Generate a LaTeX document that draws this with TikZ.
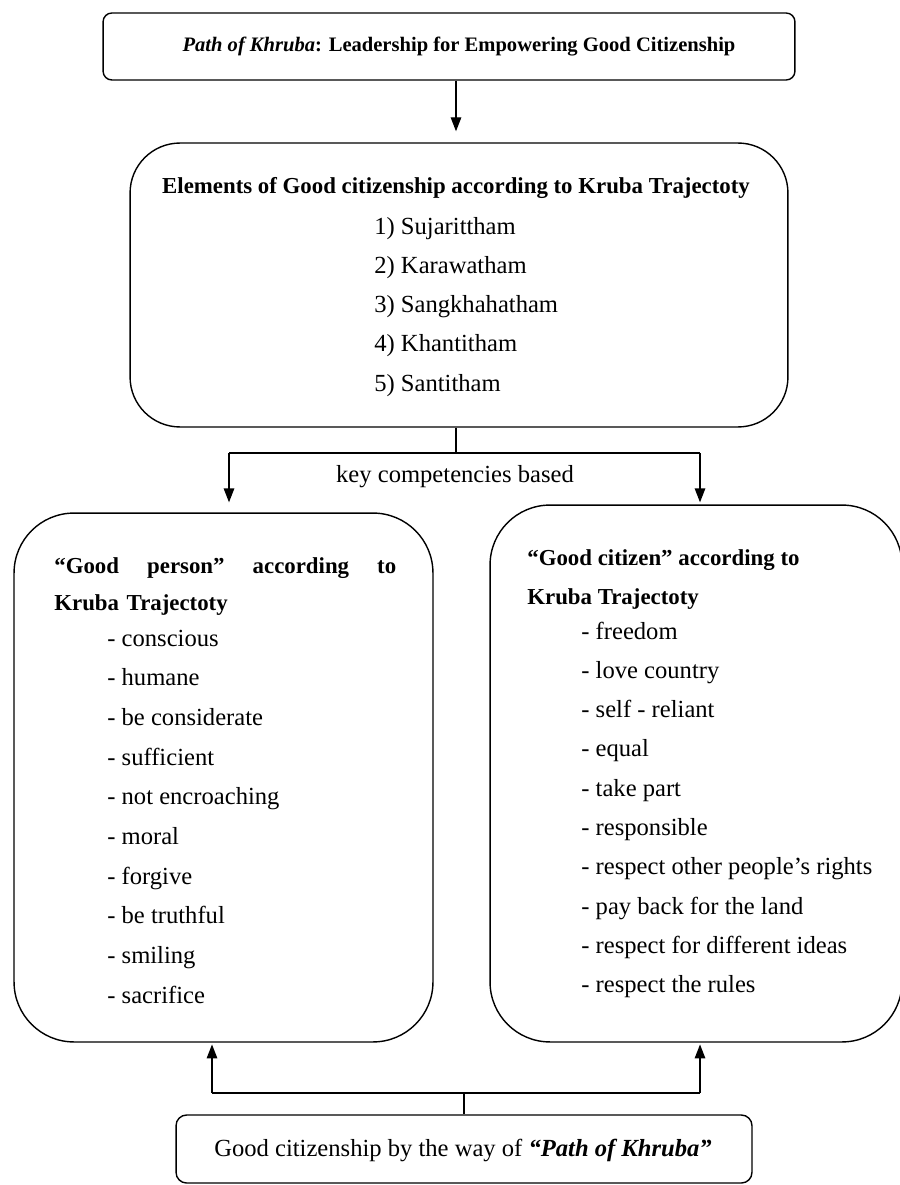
\documentclass[tikz,border=0pt]{standalone}
\usepackage{fontspec}
\setmainfont{Liberation Serif}
\usepackage{tikz}
\usetikzlibrary{arrows.meta}
\tikzset{
  box/.style={draw=black, line width=0.8pt, fill=white},
  headtxt/.style={font=\bfseries\fontsize{13}{15}\selectfont, inner sep=0pt},
  plaintxt/.style={font=\fontsize{14}{16}\selectfont, inner sep=0pt},
  item/.style={plaintxt, anchor=base west},
  link/.style={draw=black, line width=0.8pt},
  arr/.style={link, -{Triangle[length=8pt,width=6pt]}}
}

\begin{document}
\begin{tikzpicture}[x=0.02cm,y=-0.02cm]
  \useasboundingbox (0,0) rectangle (899,1185);

  % boxes
  \node[box, rounded corners=5pt, minimum width=13.84cm, minimum height=1.34cm] (top) at (449,46.5) {};
  \node[box, rounded corners=1cm, minimum width=13.16cm, minimum height=5.68cm] (elem) at (459,285) {};
  \node[box, rounded corners=1.2cm, minimum width=8.38cm, minimum height=10.58cm] (person) at (223.5,777.5) {};
  \node[box, rounded corners=1.2cm, minimum width=8.24cm, minimum height=10.74cm] (citizen) at (696,773.5) {};
  \node[box, rounded corners=6pt, minimum width=11.52cm, minimum height=1.36cm] (path) at (464,1149) {};

  % texts
  \node[headtxt, font=\bfseries\fontsize{11.7}{14}\selectfont] (toptxt) at (459,47)
    {\textit{Path of Khruba}: Leadership for Empowering Good Citizenship};
  \node[headtxt] (elemtitle) at (456,188) {Elements of Good citizenship according to Kruba Trajectoty};
  \foreach \t [count=\i] in {Sujarittham, Karawatham, Sangkhahatham, Khantitham, Santitham}
    \node[item] (e\i) at (374,{235+39*(\i-1)}) {\i) \t};

  \node[headtxt, anchor=north west, text width=6.84cm, align=left,
        font=\bfseries\fontsize{13}{21}\selectfont] (persontitle) at (54,557)
    {``Good\hfill person''\hfill according\hfill to\\Kruba Trajectoty};
  \foreach \t [count=\i] in {conscious, humane, be considerate, sufficient, not encroaching,
                             moral, forgive, be truthful, smiling, sacrifice}
    \node[item] (p\i) at (107,{646+39.7*(\i-1)}) {- \t};

  \node[headtxt, anchor=north west, align=left,
        font=\bfseries\fontsize{13}{22.5}\selectfont] (citizentitle) at (527,549)
    {``Good citizen'' according to\\Kruba Trajectoty};
  \foreach \t [count=\i] in {freedom, love country, self - reliant, equal, take part, responsible,
                             respect other people's rights, pay back for the land,
                             respect for different ideas, respect the rules}
    \node[item] (c\i) at (581,{639+39.3*(\i-1)}) {- \t};

  \node[plaintxt] (pathtxt) at (463,1150) {Good citizenship by the way of \textbf{\textit{``Path of Khruba''}}};

  % connectors
  \coordinate (fork) at (456,453);
  \coordinate (forkL) at (229,453);
  \coordinate (forkR) at (700,453);
  \draw[arr, shorten >=0.22cm] (top.south -| fork) -- (elem.north -| fork);
  \draw[link] (elem.south -| fork) -- (fork);
  \draw[link] (forkL) -- (forkR);
  \draw[arr, shorten >=0.2cm] (forkL) -- (forkL |- person.north);
  \draw[arr, shorten >=0.04cm] (forkR) -- (forkR |- citizen.north);
  \node[plaintxt] (keytxt) at (455,477) {key competencies based};

  \coordinate (join) at (464,1093);
  \coordinate (joinL) at (212,1093);
  \coordinate (joinR) at (700,1093);
  \draw[link] (path.north -| join) -- (join);
  \draw[link] (joinL) -- (joinR);
  \draw[arr, shorten >=1pt] (joinL) -- (joinL |- person.south);
  \draw[arr, shorten >=1pt] (joinR) -- (joinR |- citizen.south);
\end{tikzpicture}
\end{document}
